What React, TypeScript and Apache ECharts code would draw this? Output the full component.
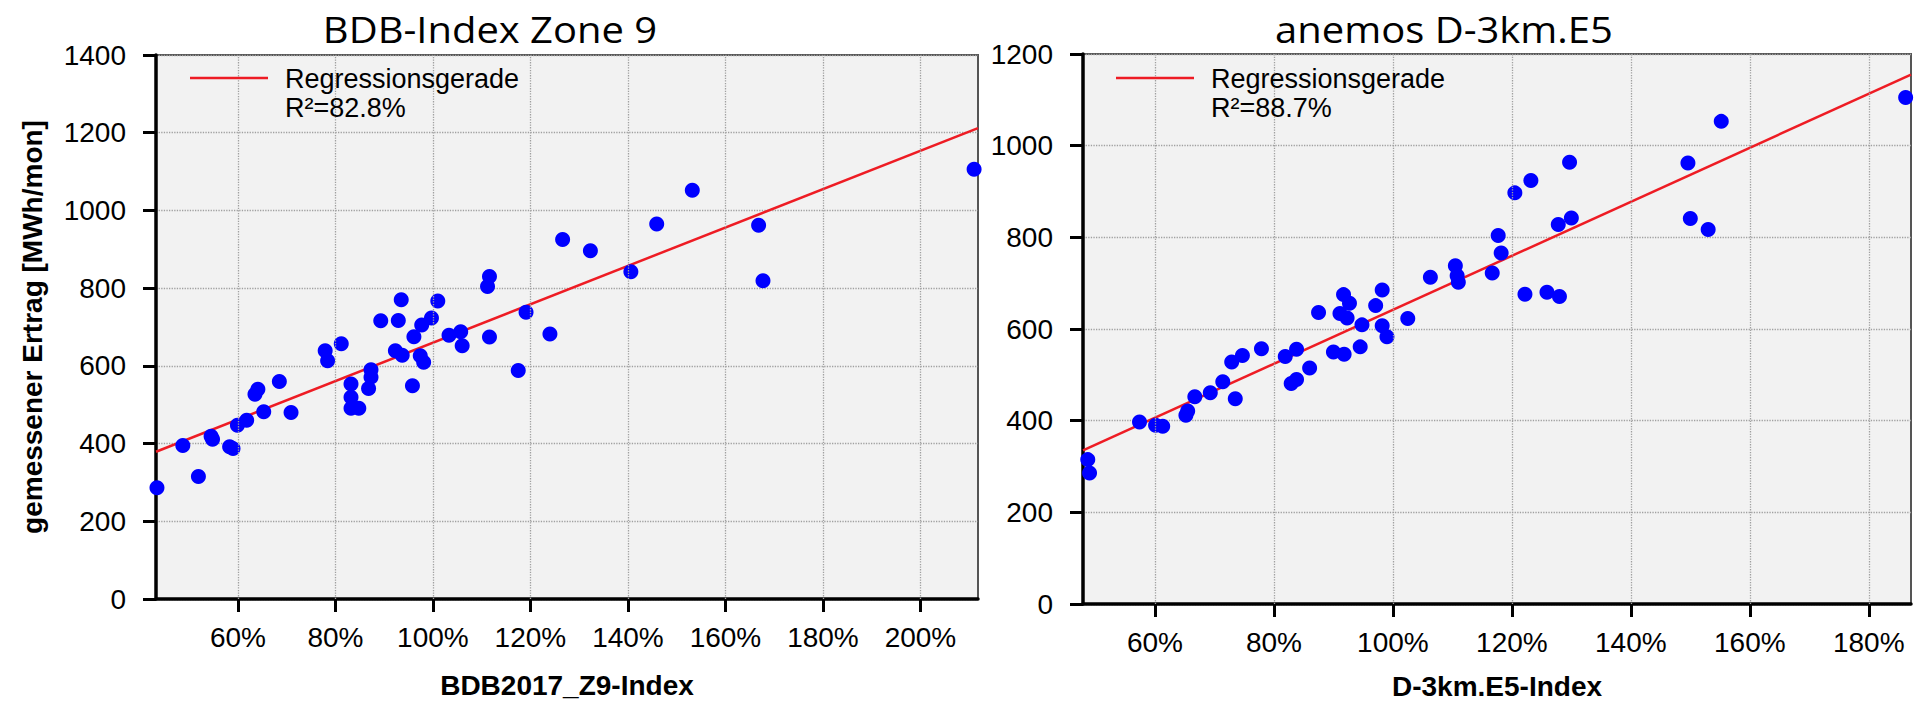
import React, { useEffect, useRef } from 'react';
import * as echarts from 'echarts';

// ---------- texts ----------
const leftTitle = 'BDB-Index Zone 9';
const rightTitle = 'anemos D-3km.E5';
const yAxisName = 'gemessener Ertrag [MWh/mon]';
const leftXName = 'BDB2017_Z9-Index';
const rightXName = 'D-3km.E5-Index';
const legendLabel = 'Regressionsgerade';
const leftR2 = 'R²=82.8%';
const rightR2 = 'R²=88.7%';

// ---------- axes ----------
const leftXTicks = [60, 80, 100, 120, 140, 160, 180, 200];
const rightXTicks = [60, 80, 100, 120, 140, 160, 180];
const leftXRange = [43.2, 211.8];
const rightXRange = [47.9, 187.1];
const leftYMax = 1400;
const rightYMax = 1200;
const yStep = 200;

// ---------- data: [index %, measured yield MWh/mon] ----------
const leftPoints: [number, number][] = [
  [211.0, 1106], [153.2, 1052], [145.9, 965], [166.8, 962], [167.7, 819],
  [126.6, 925], [132.3, 896], [140.6, 842], [111.6, 830], [111.2, 804],
  [119.1, 738], [124.0, 682], [111.6, 674], [93.5, 770], [101.0, 767],
  [89.3, 716], [92.9, 717], [99.7, 723], [97.7, 705], [96.1, 675],
  [103.3, 679], [105.7, 688], [106.0, 652], [81.2, 657], [77.9, 639],
  [78.4, 613], [92.3, 639], [93.7, 627], [97.4, 626], [98.1, 609],
  [117.5, 588], [87.3, 590], [87.3, 571], [86.8, 542], [83.2, 553],
  [83.2, 519], [83.2, 491], [84.8, 491], [95.8, 549], [43.4, 286],
  [48.7, 395], [51.9, 315], [54.5, 419], [54.8, 411], [58.3, 392],
  [59.0, 387], [59.9, 447], [61.8, 460], [63.5, 527], [64.1, 540],
  [65.3, 482], [68.5, 560], [70.9, 480],
];

const rightPoints: [number, number][] = [
  [186.2, 1105], [155.2, 1053], [129.7, 964], [149.6, 962], [123.2, 924],
  [120.5, 897], [130.0, 842], [150.0, 841], [127.8, 828], [153.0, 817],
  [117.7, 804], [118.2, 766], [110.5, 738], [110.8, 716], [111.0, 702],
  [116.7, 722], [106.3, 713], [98.2, 685], [122.2, 676], [125.9, 680],
  [128.0, 671], [91.7, 675], [92.7, 656], [97.1, 651], [87.5, 636],
  [91.1, 634], [92.3, 624], [102.5, 623], [94.8, 609], [98.2, 607],
  [99.0, 583], [94.5, 561], [90.0, 550], [91.8, 545], [83.8, 556],
  [77.9, 557], [81.9, 540], [74.7, 542], [72.9, 528], [86.0, 515],
  [82.9, 481], [83.8, 490], [71.4, 485], [69.3, 461], [66.7, 452],
  [73.5, 448], [65.2, 412], [65.5, 421], [57.4, 397], [60.1, 390],
  [61.3, 388], [48.7, 315], [49.0, 286],
];

const leftRegression: [number, number][] = [[43.2, 379], [211.8, 1212]];
const rightRegression: [number, number][] = [[47.9, 335], [187.1, 1155]];

// ---------- styling ----------
const FONT = '"Liberation Sans", Arial, Helvetica, sans-serif';
const TITLE_FONT = '"Open Sans", "Noto Sans", sans-serif';
const RED = '#ee1c24';
const BLUE = '#0000ff';
const GRIDLINE = '#a0a0a0';

function xAxisFor(gridIndex: number, range: number[], ticks: number[], name: string, nameGap: number) {
  return {
    type: 'value',
    gridIndex,
    z: 3,
    min: range[0],
    max: range[1],
    name,
    nameLocation: 'middle',
    nameGap,
    nameTextStyle: { fontFamily: FONT, fontSize: 28, fontWeight: 'bold', color: '#000' },
    axisLine: { show: true, onZero: false, lineStyle: { color: '#000', width: 3.5 } },
    axisTick: { show: true, customValues: ticks, length: 13, lineStyle: { color: '#000', width: 3 } },
    axisLabel: {
      show: true,
      customValues: ticks,
      formatter: (v: number) => `${Math.round(v)}%`,
      fontFamily: FONT,
      fontSize: 28,
      color: '#000',
      margin: 24,
    },
    splitLine: { show: false },
  };
}

function yAxisFor(gridIndex: number, max: number, name: string) {
  return {
    type: 'value',
    gridIndex,
    z: 3,
    min: 0,
    max,
    interval: yStep,
    name,
    nameLocation: 'middle',
    nameGap: 110,
    nameTextStyle: { fontFamily: FONT, fontSize: 28, fontWeight: 'bold', color: '#000' },
    axisLine: { show: true, onZero: false, lineStyle: { color: '#000', width: 3.5 } },
    axisTick: { show: true, length: 13, lineStyle: { color: '#000', width: 3 } },
    axisLabel: {
      fontFamily: FONT,
      fontSize: 28,
      color: '#000',
      margin: 30,
      formatter: (v: number) => String(Math.round(v)),
    },
    splitLine: { show: true, lineStyle: { color: GRIDLINE, type: 'dotted', width: 1.3 } },
  };
}

function vGridSeries(idx: number, ticks: number[]) {
  return {
    type: 'line',
    xAxisIndex: idx,
    yAxisIndex: idx,
    data: [],
    z: 1,
    silent: true,
    markLine: {
      silent: true,
      symbol: ['none', 'none'],
      label: { show: false },
      lineStyle: { color: GRIDLINE, type: 'dotted', width: 1.3 },
      emphasis: { disabled: true },
      data: ticks.map((t) => ({ xAxis: t })),
    },
  };
}

function legendGraphics(x0: number, r2: string) {
  return [
    { type: 'line', z: 10, shape: { x1: x0, y1: 78, x2: x0 + 78, y2: 78 }, style: { stroke: RED, lineWidth: 2.5 } },
    {
      type: 'text', x: x0 + 95, y: 79, z: 10,
      style: {
        text: legendLabel,
        fontFamily: FONT, fontSize: 27, fill: '#000',
        align: 'left', verticalAlign: 'middle',
      },
    },
    {
      type: 'text', x: x0 + 95, y: 108, z: 10,
      style: {
        text: r2,
        fontFamily: FONT, fontSize: 27, fill: '#000',
        align: 'left', verticalAlign: 'middle',
      },
    },
  ];
}

export default function App() {
  const ref = useRef<HTMLDivElement>(null);

  useEffect(() => {
    if (!ref.current) return;
    const chart = echarts.init(ref.current, undefined, { renderer: 'svg' });

    const option: any = {
      animation: false,
      backgroundColor: '#ffffff',
      grid: [
        {
          left: 156, top: 55, width: 822, height: 544,
          show: true, backgroundColor: '#f2f2f2', borderColor: '#555', borderWidth: 2,
          containLabel: false, outerBoundsMode: 'none',
        },
        {
          left: 1083, top: 54, width: 828, height: 550,
          show: true, backgroundColor: '#f2f2f2', borderColor: '#555', borderWidth: 2,
          containLabel: false, outerBoundsMode: 'none',
        },
      ],
      xAxis: [
        xAxisFor(0, leftXRange, leftXTicks, leftXName, 72),
        xAxisFor(1, rightXRange, rightXTicks, rightXName, 68),
      ],
      yAxis: [yAxisFor(0, leftYMax, yAxisName), yAxisFor(1, rightYMax, '')],
      series: [
        vGridSeries(0, leftXTicks),
        vGridSeries(1, rightXTicks),
        {
          type: 'line', xAxisIndex: 0, yAxisIndex: 0, data: leftRegression,
          symbol: 'none', lineStyle: { color: RED, width: 2.5 }, z: 3, silent: true,
        },
        {
          type: 'line', xAxisIndex: 1, yAxisIndex: 1, data: rightRegression,
          symbol: 'none', lineStyle: { color: RED, width: 2.5 }, z: 3, silent: true,
        },
        {
          type: 'scatter', xAxisIndex: 0, yAxisIndex: 0, data: leftPoints,
          symbol: 'circle', symbolSize: 15, itemStyle: { color: BLUE, opacity: 1 }, z: 4,
        },
        {
          type: 'scatter', xAxisIndex: 1, yAxisIndex: 1, data: rightPoints,
          symbol: 'circle', symbolSize: 15, itemStyle: { color: BLUE, opacity: 1 }, z: 4,
        },
      ],
      graphic: [
        {
          type: 'text', x: 490, y: 29, scaleX: 1.08, z: 10,
          style: { text: leftTitle, fontFamily: TITLE_FONT, fontSize: 37, fill: '#000', align: 'center', verticalAlign: 'middle' },
        },
        {
          type: 'text', x: 1444, y: 29, scaleX: 1.08, z: 10,
          style: { text: rightTitle, fontFamily: TITLE_FONT, fontSize: 37, fill: '#000', align: 'center', verticalAlign: 'middle' },
        },
        ...legendGraphics(190, leftR2),
        ...legendGraphics(1116, rightR2),
      ],
    };

    chart.setOption(option);
    return () => chart.dispose();
  }, []);

  return (
    <div
      ref={ref}
      style={{ position: 'fixed', left: 0, top: 0, width: 1919, height: 703, background: '#fff' }}
    />
  );
}
